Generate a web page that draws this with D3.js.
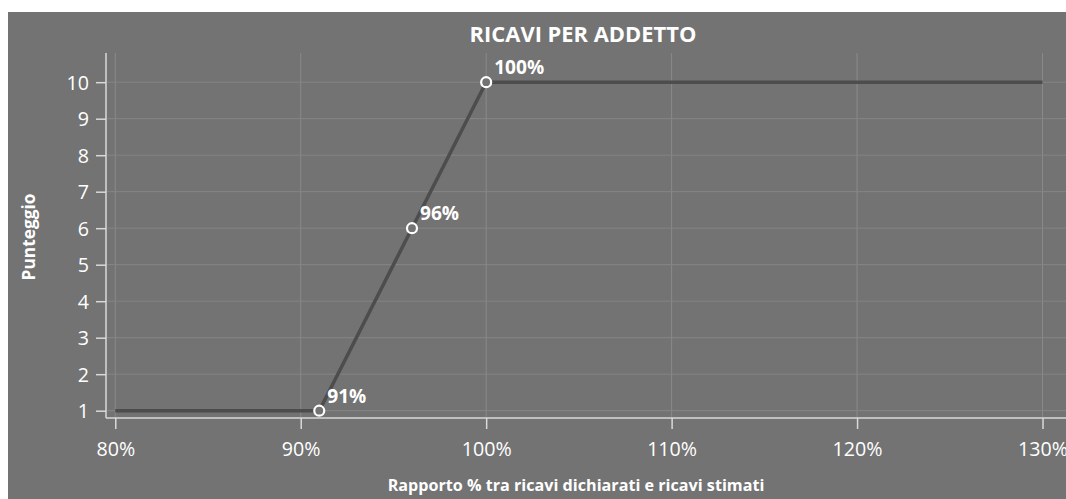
<!DOCTYPE html>
<html><head><meta charset="utf-8">
<script src="https://cdn.jsdelivr.net/npm/d3@7"></script>
<style>
html,body{margin:0;padding:0;background:#fff;overflow:hidden;}
svg{display:block;}
text{font-family:"Open Sans",sans-serif;}
</style></head>
<body><svg id="c" width="1066" height="499"></svg>
<script>
const title = "RICAVI PER ADDETTO";
const xLabel = "Rapporto % tra ricavi dichiarati e ricavi stimati";
const yLabel = "Punteggio";
const ratios = [80, 91, 96, 100, 130];
const scores = [1, 1, 6, 10, 10];
const markedRatios = [91, 96, 100];
const markedScores = [1, 6, 10];
const xTicks = [80, 90, 100, 110, 120, 130];
const yTicks = [1, 2, 3, 4, 5, 6, 7, 8, 9, 10];

(function () {
const FONT = "'Open Sans', sans-serif";
const svg = d3.select("#c");
const bg = "#737373";
svg.append("rect").attr("x", 8).attr("y", 12).attr("width", 1066).attr("height", 499).attr("fill", bg);

// font size that gives a target width for a sample string
function fitSize(str, weight, target) {
  const t = svg.append("text").attr("font-family", FONT).attr("font-weight", weight)
    .attr("font-size", 20).text(str);
  const w = t.node().getComputedTextLength();
  t.remove();
  return 20 * target / w;
}
const tickSize = fitSize("100%", "normal", 50);
const ptSize = fitSize("100%", "bold", 50);
const titleSize = fitSize(title, "bold", 227);
const xlSize = fitSize(xLabel, "bold", 377);
const ylSize = fitSize(yLabel, "bold", 87);

const pLeft = 106, pTop = 53, pBottom = 418, pRight = 1100;
const x = d3.scaleLinear().domain([79.5, 80 + (pRight - 115) / 18.55]).range([pLeft, pRight]);
const y = d3.scaleLinear().domain([0.8, 10.8]).range([pBottom, pTop]);

// grid
const g = svg.append("g");
g.selectAll(".vg").data(xTicks).join("line")
  .attr("x1", d => x(d)).attr("x2", d => x(d)).attr("y1", pTop).attr("y2", pBottom)
  .attr("stroke", "#8a8a8a").attr("stroke-width", 1);
g.selectAll(".hg").data(yTicks).join("line")
  .attr("x1", pLeft).attr("x2", pRight).attr("y1", d => y(d)).attr("y2", d => y(d))
  .attr("stroke", "#858585").attr("stroke-width", 1);

// axes
const xAxis = d3.axisBottom(x).tickValues(xTicks).tickFormat(d => d + "%").tickSize(11).tickSizeOuter(0).tickPadding(13);
const yAxis = d3.axisLeft(y).tickValues(yTicks).tickSize(10).tickSizeOuter(0).tickPadding(7);
const xa = svg.append("g").attr("transform", `translate(0,${pBottom})`).call(xAxis);
const ya = svg.append("g").attr("transform", `translate(${pLeft},0)`).call(yAxis);
[xa, ya].forEach(a => {
  a.select(".domain").attr("stroke", "#d9d9d9").attr("stroke-width", 1.5);
  a.selectAll(".tick line").attr("stroke", "#d9d9d9").attr("stroke-width", 1.5);
  a.selectAll(".tick text").attr("fill", "#fff").attr("font-size", tickSize).attr("font-family", FONT);
});
ya.select(".domain").attr("d", `M0,${pTop}V${pBottom}`);
xa.select(".domain").attr("d", `M${pLeft},0H${pRight}`);
ya.selectAll(".tick text").attr("dy", "0.36em");
xa.selectAll(".tick text").attr("dy", "0.71em");

// line
const line = d3.line().x((d, i) => x(ratios[i])).y((d, i) => y(scores[i]));
svg.append("path").datum(scores).attr("d", line)
  .attr("fill", "none").attr("stroke", "#4d4d4d").attr("stroke-width", 3.5);

// points
const pts = markedRatios.map((r, i) => ({ r, s: markedScores[i] }));
svg.selectAll(".pt").data(pts).join("circle")
  .attr("cx", d => x(d.r)).attr("cy", d => y(d.s)).attr("r", 5)
  .attr("fill", bg).attr("stroke", "#fff").attr("stroke-width", 2.2);
svg.selectAll(".pl").data(pts).join("text")
  .attr("x", d => x(d.r) + 8).attr("y", d => y(d.s) - 8)
  .attr("fill", "#fff").attr("font-size", ptSize).attr("font-weight", "bold")
  .text(d => d.r + "%");

// titles
svg.append("text").attr("x", 583).attr("y", 42).attr("text-anchor", "middle")
  .attr("fill", "#fff").attr("font-size", titleSize).attr("font-weight", "bold").text(title);
svg.append("text").attr("x", 576).attr("y", 491).attr("text-anchor", "middle")
  .attr("fill", "#fff").attr("font-size", xlSize).attr("font-weight", "bold").text(xLabel);
svg.append("text").attr("transform", "translate(35,237) rotate(-90)").attr("text-anchor", "middle")
  .attr("fill", "#fff").attr("font-size", ylSize).attr("font-weight", "bold").text(yLabel);
})();
</script></body></html>
